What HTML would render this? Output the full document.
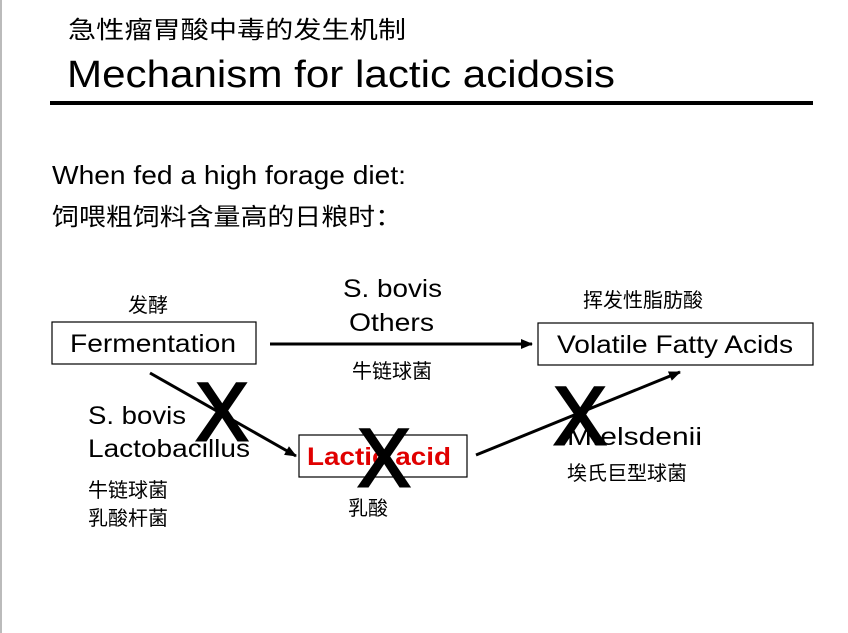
<!DOCTYPE html>
<html><head><meta charset="utf-8"><style>
html,body{margin:0;padding:0;background:#fff;width:848px;height:633px;overflow:hidden}
svg{display:block}
text{font-family:"Liberation Sans",Arial,"Noto Sans CJK SC",sans-serif;fill:#000}
.cj{font-family:"Noto Sans CJK SC","WenQuanYi Zen Hei",sans-serif}
</style></head><body>
<svg width="848" height="633" viewBox="0 0 848 633">
<defs><marker id="ah" markerWidth="12" markerHeight="10" refX="11" refY="5" orient="auto" markerUnits="userSpaceOnUse"><path d="M0,0 L12,5 L0,10 z" fill="#000"/></marker></defs>
<rect x="0" y="0" width="2" height="633" fill="#bbb"/>
<text class="cj" x="68" y="38" font-size="24" textLength="338" lengthAdjust="spacingAndGlyphs">急性瘤胃酸中毒的发生机制</text>
<text x="67" y="87" font-size="38" textLength="548" lengthAdjust="spacingAndGlyphs">Mechanism for lactic acidosis</text>
<rect x="50" y="101" width="763" height="4" fill="#000"/>
<text x="52" y="184" font-size="26" textLength="354" lengthAdjust="spacingAndGlyphs">When fed a high forage diet:</text>
<text class="cj" x="52" y="225" font-size="24" textLength="350" lengthAdjust="spacingAndGlyphs">饲喂粗饲料含量高的日粮时：</text>

<rect x="52" y="322" width="204" height="42" fill="none" stroke="#000" stroke-width="1.2"/>
<text x="70" y="352" font-size="25" textLength="166" lengthAdjust="spacingAndGlyphs">Fermentation</text>
<text class="cj" x="128" y="312" font-size="20">发酵</text>

<rect x="538" y="323" width="275" height="42" fill="none" stroke="#000" stroke-width="1.2"/>
<text x="557" y="353" font-size="25" textLength="236" lengthAdjust="spacingAndGlyphs">Volatile Fatty Acids</text>
<text class="cj" x="583" y="307" font-size="20">挥发性脂肪酸</text>

<text x="343" y="297" font-size="25" textLength="99" lengthAdjust="spacingAndGlyphs">S. bovis</text>
<text x="349" y="331" font-size="25" textLength="85" lengthAdjust="spacingAndGlyphs">Others</text>
<text class="cj" x="352" y="378" font-size="20">牛链球菌</text>
<line x1="270" y1="344" x2="532" y2="344" stroke="#000" stroke-width="3" marker-end="url(#ah)"/>

<line x1="150" y1="373" x2="296" y2="456" stroke="#000" stroke-width="3" marker-end="url(#ah)"/>
<line x1="476" y1="455" x2="680" y2="372" stroke="#000" stroke-width="3" marker-end="url(#ah)"/>

<rect x="299" y="435" width="168" height="42" fill="#fff" stroke="#000" stroke-width="1.2"/>
<text x="307" y="465" font-size="25" font-weight="bold" style="fill:#e00000" textLength="144" lengthAdjust="spacingAndGlyphs">Lactic acid</text>
<text class="cj" x="348" y="515" font-size="20">乳酸</text>

<text x="88" y="424" font-size="25" textLength="98" lengthAdjust="spacingAndGlyphs">S. bovis</text>
<text x="88" y="457" font-size="25" textLength="162" lengthAdjust="spacingAndGlyphs">Lactobacillus</text>
<text class="cj" x="88" y="497" font-size="20">牛链球菌</text>
<text class="cj" x="88" y="525" font-size="20">乳酸杆菌</text>

<text x="567" y="445" font-size="25" textLength="135" lengthAdjust="spacingAndGlyphs">M.elsdenii</text>
<text class="cj" x="567" y="480" font-size="20">埃氏巨型球菌</text>

<text x="196" y="440" font-size="82" textLength="52" lengthAdjust="spacingAndGlyphs" stroke="#000" stroke-width="3">X</text>
<text x="358" y="486" font-size="82" textLength="52" lengthAdjust="spacingAndGlyphs" stroke="#000" stroke-width="3">X</text>
<text x="554" y="444" font-size="82" textLength="52" lengthAdjust="spacingAndGlyphs" stroke="#000" stroke-width="3">X</text>
</svg>
</body></html>
